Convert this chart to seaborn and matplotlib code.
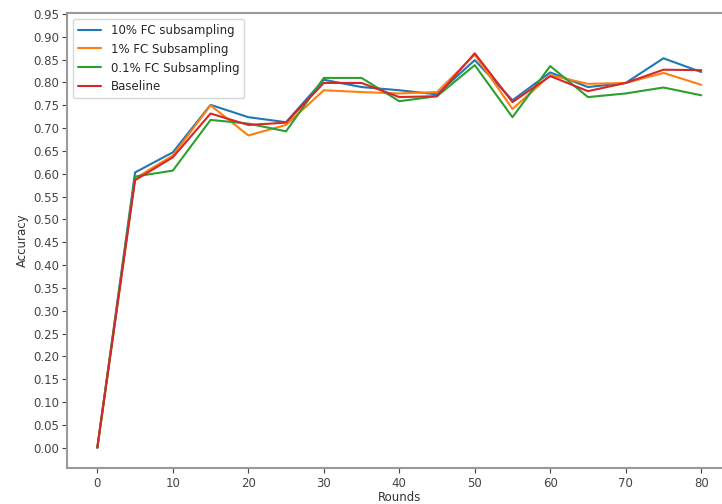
import numpy as np
import pandas as pd
import seaborn as sns
import matplotlib.pyplot as plt

rounds = [0, 5, 10, 15, 20, 25, 30, 35, 40, 45, 50, 55, 60, 65, 70, 75, 80]
fc_10 = [0.0, 0.603, 0.647, 0.751, 0.724, 0.713, 0.806, 0.790, 0.783, 0.774,
         0.849, 0.761, 0.822, 0.790, 0.799, 0.853, 0.823]
fc_1 = [0.0, 0.590, 0.640, 0.750, 0.684, 0.707, 0.783, 0.779, 0.776, 0.779,
        0.861, 0.742, 0.816, 0.797, 0.799, 0.821, 0.795]
fc_01 = [0.0, 0.594, 0.607, 0.718, 0.710, 0.693, 0.810, 0.810, 0.759, 0.770,
         0.838, 0.724, 0.836, 0.768, 0.776, 0.789, 0.772]
baseline = [0.0, 0.586, 0.636, 0.732, 0.707, 0.712, 0.799, 0.799, 0.768, 0.770,
            0.864, 0.757, 0.814, 0.781, 0.799, 0.828, 0.827]
series_names = ["10% FC subsampling", "1% FC Subsampling",
                "0.1% FC Subsampling", "Baseline"]

frames = []
for name, vals in zip(series_names, [fc_10, fc_1, fc_01, baseline]):
    frames.append(pd.DataFrame({"Rounds": rounds, "Accuracy": vals, "series": name}))
df = pd.concat(frames, ignore_index=True)

sns.set_style("ticks")
plt.rcParams["font.family"] = ["DejaVu Sans"]

fig = plt.figure(figsize=(7.22, 5.04), dpi=100)
ax = fig.add_axes([0.093, 0.071, 0.920, 0.903])

sns.lineplot(data=df, x="Rounds", y="Accuracy", hue="series",
             palette=sns.color_palette("tab10", 4), linewidth=1.5, ax=ax)

ax.set_xlim(-4, 84)
ax.set_ylim(-0.045, 0.952)
ax.set_xticks(np.arange(0, 81, 10))
ax.set_yticks(np.arange(0, 0.951, 0.05))
ax.set_yticklabels([f"{v:.2f}" for v in np.arange(0, 0.951, 0.05)])
ax.tick_params(labelsize=8.5, colors="#444444", length=3.5, pad=2.5)
ax.set_xlabel("Rounds", fontsize=8.5, color="#333333", labelpad=1)
ax.set_ylabel("Accuracy", fontsize=8.5, color="#333333", labelpad=3)
for s in ax.spines.values():
    s.set_color("#999999")
    s.set_linewidth(1.5)

leg = ax.legend(loc="upper left", fontsize=8.5, title=None, frameon=True,
                handlelength=2.0, borderaxespad=0.5)

fig.savefig("out.png", dpi=100)
